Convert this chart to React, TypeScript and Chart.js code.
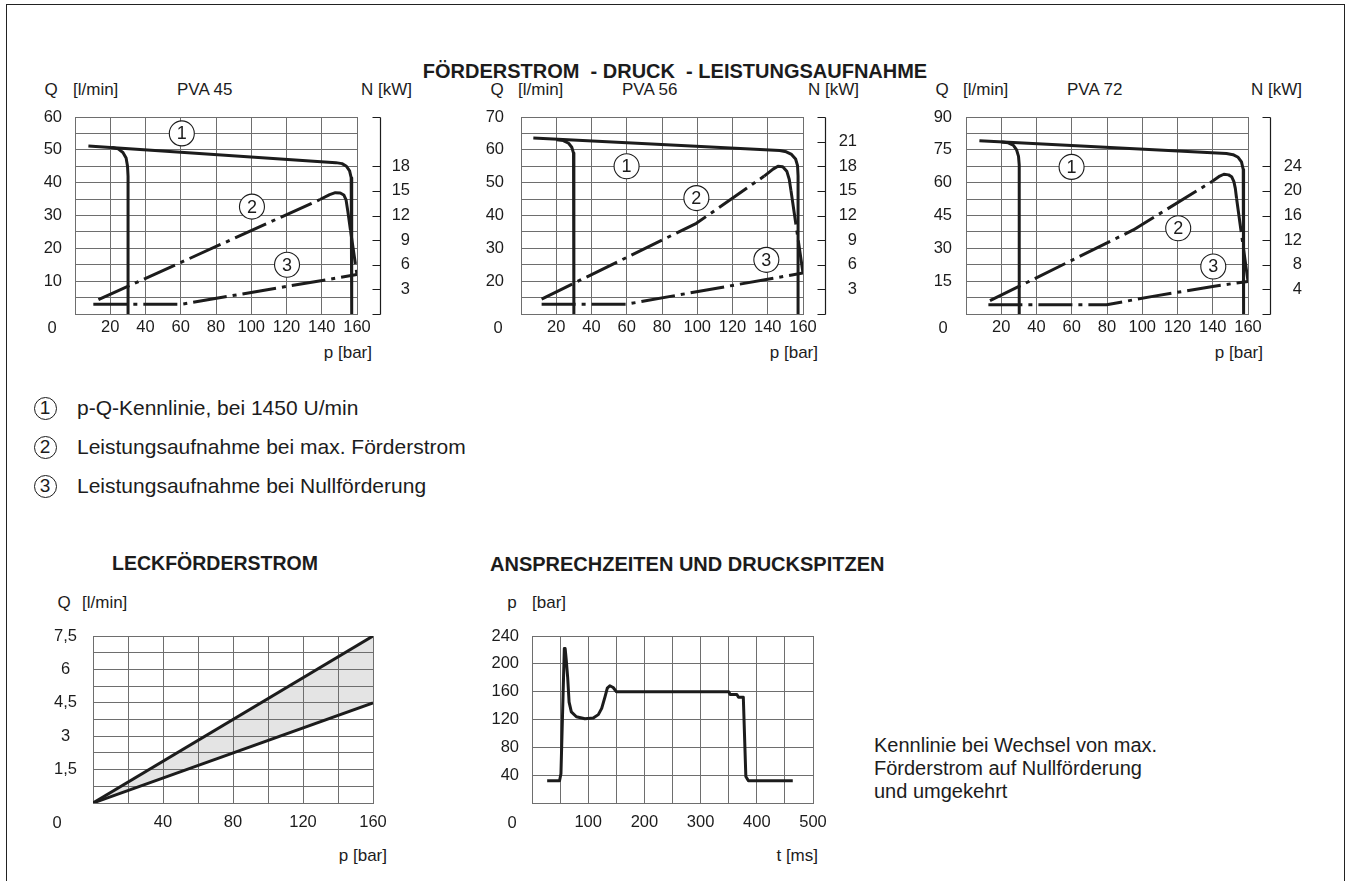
import React, { useEffect, useRef } from 'react';
import { Chart, registerables } from 'chart.js';

Chart.register(...registerables);

const FONT = '"Liberation Sans", Arial, Helvetica, sans-serif';
const INK = '#1c1c1c';
const GRID = '#6e6e6e';
const TICK = 16.5;
const LABEL = 17;
const DASH = [34, 6, 4, 6];

type Pt = [number, number];
type Mark = [number, number, string];

// ---------------- data ----------------
const TITLE_MAIN = 'FÖRDERSTROM  - DRUCK  - LEISTUNGSAUFNAHME';
const TITLE_LEAK = 'LECKFÖRDERSTROM';
const TITLE_RESP = 'ANSPRECHZEITEN UND DRUCKSPITZEN';
const LEGEND_ITEMS = [
  'p-Q-Kennlinie, bei 1450 U/min',
  'Leistungsaufnahme bei max. Förderstrom',
  'Leistungsaufnahme bei Nullförderung',
];
const DESC_LINES = ['Kennlinie bei Wechsel von max.', 'Förderstrom auf Nullförderung', 'und umgekehrt'];

const P_LABELS = [20, 40, 60, 80, 100, 120, 140, 160];

const PVA45_Q_LABELS = [10, 20, 30, 40, 50, 60];
const PVA45_N_LABELS = [3, 6, 9, 12, 15, 18];
const PVA45_C1_MAIN: Pt[] = [[7.6, 51.2], [148, 46.1], [151.5, 45.8], [154, 45.0], [155.8, 43.6], [156.7, 41.5], [157, 38], [157, 0]];
const PVA45_C1_LOW: Pt[] = [[21, 50.7], [24.5, 50.3], [27.2, 49.2], [29, 47.5], [29.8, 45], [30.1, 42], [30.1, 0]];
const PVA45_C2: Pt[] = [[13.3, 1.74], [139, 13.95], [144.5, 14.55], [147.7, 14.78], [150.5, 14.75], [152.5, 14.5], [153.8, 13.9], [154.8, 12.5], [156.3, 10.2], [160, 4.8]];
const PVA45_C3: Pt[] = [[10.4, 1.2], [60.6, 1.2], [160, 4.8]];
const PVA45_MARKS: Mark[] = [[60.6, 55, '1'], [100.4, 32.7, '2'], [120.3, 15, '3']];

const PVA56_Q_LABELS = [20, 30, 40, 50, 60, 70];
const PVA56_N_LABELS = [3, 6, 9, 12, 15, 18, 21];
const PVA56_C1_MAIN: Pt[] = [[7, 63.6], [146.8, 59.8], [150.5, 59.4], [153.5, 58.6], [155.8, 57.2], [156.9, 55.2], [157.2, 52], [157.2, 10]];
const PVA56_C1_LOW: Pt[] = [[20.2, 63.1], [24, 62.8], [27, 62.0], [28.8, 60.8], [29.8, 59], [30, 56.5], [30, 10]];
const PVA56_C2: Pt[] = [[11.7, 1.82], [99.5, 11.05], [138, 16.8], [143, 17.65], [145.8, 18.0], [148.5, 17.95], [150.8, 17.4], [152.2, 16.4], [153.2, 15.0], [160, 5.0]];
const PVA56_C3: Pt[] = [[11.7, 1.2], [60, 1.2], [160, 5.0]];
const PVA56_MARKS: Mark[] = [[59.9, 55, '1'], [99.5, 45.3, '2'], [139.2, 26.5, '3']];

const PVA72_Q_LABELS = [15, 30, 45, 60, 75, 90];
const PVA72_N_LABELS = [4, 8, 12, 16, 20, 24];
const PVA72_C1_MAIN: Pt[] = [[7.6, 79.2], [147.8, 73.3], [151.5, 72.8], [154.4, 71.6], [156.3, 69.5], [157.3, 66], [157.5, 60], [157.5, 0]];
const PVA72_C1_LOW: Pt[] = [[20.2, 78.6], [24, 78.2], [26.8, 77.1], [28.7, 75], [29.8, 72], [30.2, 68], [30.2, 0]];
const PVA72_C2: Pt[] = [[13.6, 2.16], [94.9, 13.65], [140, 21.6], [144, 22.4], [146.3, 22.7], [149, 22.6], [150.7, 22.3], [152, 21.5], [152.8, 20.4], [153.5, 18.8], [160, 5.3]];
const PVA72_C3: Pt[] = [[12.7, 1.51], [79.8, 1.51], [106, 2.86], [140, 4.48], [160, 5.29]];
const PVA72_MARKS: Mark[] = [[59.9, 67.2, '1'], [120.4, 39.2, '2'], [140.3, 21.7, '3']];

const LEAK_P_LABELS = [40, 80, 120, 160];
const LEAK_Q_LABELS = [1.5, 3, 4.5, 6, 7.5];
const LEAK_UPPER: Pt[] = [[0, 0], [160, 7.5]];
const LEAK_LOWER: Pt[] = [[0, 0], [160, 4.5]];

const RESP_T_LABELS = [100, 200, 300, 400, 500];
const RESP_P_LABELS = [40, 80, 120, 160, 200, 240];
const RESP_CURVE: Pt[] = [
  [27, 32], [49, 32], [51.5, 42], [57.5, 222], [59, 222], [61, 205], [63.5, 180], [66, 145], [70, 131],
  [79, 124], [94, 121], [109, 122], [118, 127], [124, 136], [130, 153], [134, 165], [138.5, 168.5],
  [144.5, 166], [150, 160], [350, 160], [352.5, 156], [364.5, 156], [367.5, 152], [376, 152],
  [380.5, 38], [385, 32], [464, 32],
];

// ---------------- helpers ----------------
interface Box { left: number; top: number; width: number; height: number }
interface Plot { left: number; top: number; right: number; bottom: number }

const has = (arr: number[], v: number) => arr.some((a) => Math.abs(a - v) < 1e-6);
const tickFont = { family: FONT, size: TICK };

function makeBracket(ticks: number[]) {
  return {
    id: 'nBracket',
    afterDraw(chart: any) {
      const s = chart.scales.n;
      const ctx = chart.ctx;
      const x = Math.round(s.left) + 0.5;
      ctx.save();
      ctx.strokeStyle = INK;
      ctx.lineWidth = 1.2;
      ctx.beginPath();
      ctx.moveTo(x, Math.round(s.getPixelForValue(s.max)) + 0.5);
      ctx.lineTo(x, Math.round(s.getPixelForValue(s.min)) + 0.5);
      ticks.forEach((v) => {
        const y = Math.round(s.getPixelForValue(v)) + 0.5;
        ctx.moveTo(x - 8, y);
        ctx.lineTo(x, y);
      });
      ctx.stroke();
      ctx.restore();
    },
  };
}

function makeOrigin(dx: number, dy: number) {
  return {
    id: 'origin0',
    afterDraw(chart: any) {
      const xs = chart.scales.x;
      const a = chart.chartArea;
      const ctx = chart.ctx;
      ctx.save();
      ctx.font = `${TICK}px ${FONT}`;
      ctx.fillStyle = INK;
      ctx.textAlign = 'center';
      ctx.textBaseline = 'middle';
      ctx.fillText('0', xs.getPixelForValue(0) + dx, a.bottom + dy);
      ctx.restore();
    },
  };
}

function makeMarks(marks: Mark[]) {
  return {
    id: 'marks',
    afterDatasetsDraw(chart: any) {
      const xs = chart.scales.x;
      const ys = chart.scales.y;
      const ctx = chart.ctx;
      ctx.save();
      marks.forEach(([p, q, t]) => {
        const x = xs.getPixelForValue(p);
        const y = ys.getPixelForValue(q);
        ctx.beginPath();
        ctx.arc(x, y, 12.5, 0, Math.PI * 2);
        ctx.fillStyle = '#fff';
        ctx.fill();
        ctx.lineWidth = 1.1;
        ctx.strokeStyle = INK;
        ctx.stroke();
        ctx.fillStyle = INK;
        ctx.font = `18px ${FONT}`;
        ctx.textAlign = 'center';
        ctx.textBaseline = 'middle';
        ctx.fillText(t, x, y + 1);
      });
      ctx.restore();
    },
  };
}

function lineDs(pts: Pt[], axis: string, extra: any = {}) {
  return {
    data: pts.map(([x, y]) => ({ x, y })),
    yAxisID: axis,
    borderColor: INK,
    borderWidth: 3,
    pointRadius: 0,
    fill: false,
    tension: 0,
    borderJoinStyle: 'round',
    ...extra,
  };
}

interface TopSpec {
  box: Box; plot: Plot;
  qMin: number; qMax: number; qStep: number; qLabels: number[]; yPad: number;
  nMax: number; nStep: number; nLabels: number[]; gap: number; nWidth: number;
  c1a: Pt[]; c1b: Pt[]; c2: Pt[]; c2Solid: [number, number]; c3: Pt[]; marks: Mark[];
}

function topConfig(s: TopSpec) {
  const HB = 30;
  const WL = s.plot.left - s.box.left;
  const padTop = s.plot.top - s.box.top;
  const padRight = s.box.left + s.box.width - s.plot.right - s.gap - s.nWidth;
  const padBottom = s.box.top + s.box.height - s.plot.bottom - HB;
  const [s0, s1] = s.c2Solid;
  return {
    type: 'line',
    data: {
      datasets: [
        lineDs(s.c1a, 'y'),
        lineDs(s.c1b, 'y'),
        lineDs(s.c2, 'n', {
          borderDash: DASH,
          segment: {
            borderDash: (ctx: any) => (ctx.p0.parsed.x >= s0 - 1e-6 && ctx.p1.parsed.x <= s1 + 1e-6 ? [] : undefined),
          },
        }),
        lineDs(s.c3, 'n', { borderDash: DASH }),
      ],
    },
    options: {
      responsive: false,
      animation: false,
      events: [],
      layout: { padding: { left: 0, top: padTop, right: padRight, bottom: padBottom } },
      plugins: { legend: { display: false }, tooltip: { enabled: false } },
      scales: {
        x: {
          type: 'linear', position: 'bottom', min: 0, max: 160,
          afterFit: (sc: any) => { sc.height = HB; },
          ticks: { stepSize: 20, autoSkip: false, maxRotation: 0, padding: 4, font: tickFont, color: INK,
            callback: (v: number) => (has(P_LABELS, v) ? String(v) : '') },
          grid: { color: GRID, lineWidth: 1, drawTicks: false },
          border: { color: GRID, width: 1 },
        },
        y: {
          type: 'linear', position: 'left', min: s.qMin, max: s.qMax,
          afterFit: (sc: any) => { sc.width = WL; },
          ticks: { stepSize: s.qStep, autoSkip: false, padding: s.yPad, font: tickFont, color: INK,
            callback: (v: number) => (has(s.qLabels, v) ? String(v) : '') },
          grid: { color: GRID, lineWidth: 1, drawTicks: false },
          border: { color: GRID, width: 1 },
        },
        gap: {
          type: 'linear', position: 'right', weight: 1, display: true,
          afterFit: (sc: any) => { sc.width = s.gap; },
          ticks: { display: false }, grid: { display: false }, border: { display: false },
        },
        n: {
          type: 'linear', position: 'right', weight: 2, min: 0, max: s.nMax,
          afterFit: (sc: any) => { sc.width = s.nWidth; },
          ticks: { stepSize: s.nStep, autoSkip: false, crossAlign: 'far', padding: 0, font: tickFont, color: INK,
            callback: (v: number) => (has(s.nLabels, v) ? String(v) : '') },
          grid: { display: false, drawOnChartArea: false },
          border: { display: false },
        },
      },
    },
    plugins: [makeBracket([0, ...s.nLabels, s.nMax]), makeOrigin(-23, 14), makeMarks(s.marks)],
  };
}

function leakConfig(box: Box, plot: Plot) {
  const HB = 30;
  return {
    type: 'line',
    data: {
      datasets: [
        lineDs(LEAK_UPPER, 'y', { fill: '+1', backgroundColor: '#e4e4e4' }),
        lineDs(LEAK_LOWER, 'y'),
      ],
    },
    options: {
      responsive: false,
      animation: false,
      events: [],
      layout: { padding: { left: 0, top: plot.top - box.top, right: box.left + box.width - plot.right, bottom: box.top + box.height - plot.bottom - HB } },
      plugins: { legend: { display: false }, tooltip: { enabled: false }, filler: { drawTime: 'beforeDraw' } },
      scales: {
        x: {
          type: 'linear', position: 'bottom', min: 0, max: 160,
          afterFit: (sc: any) => { sc.height = HB; },
          ticks: { stepSize: 20, autoSkip: false, maxRotation: 0, padding: 10, font: tickFont, color: INK,
            callback: (v: number) => (has(LEAK_P_LABELS, v) ? String(v) : '') },
          grid: { color: GRID, drawTicks: false }, border: { color: GRID },
        },
        y: {
          type: 'linear', position: 'left', min: 0, max: 7.5,
          afterFit: (sc: any) => { sc.width = plot.left - box.left; },
          ticks: { stepSize: 0.75, autoSkip: false, padding: 16, crossAlign: 'center', font: tickFont, color: INK,
            callback: (v: number) => (has(LEAK_Q_LABELS, v) ? String(v).replace('.', ',') : '') },
          grid: { color: GRID, drawTicks: false }, border: { color: GRID },
        },
      },
    },
    plugins: [makeOrigin(-36, 20)],
  };
}

function respConfig(box: Box, plot: Plot) {
  const HB = 30;
  return {
    type: 'line',
    data: { datasets: [lineDs(RESP_CURVE, 'y')] },
    options: {
      responsive: false,
      animation: false,
      events: [],
      layout: { padding: { left: 0, top: plot.top - box.top, right: box.left + box.width - plot.right, bottom: box.top + box.height - plot.bottom - HB } },
      plugins: { legend: { display: false }, tooltip: { enabled: false } },
      scales: {
        x: {
          type: 'linear', position: 'bottom', min: 0, max: 500,
          afterFit: (sc: any) => { sc.height = HB; },
          ticks: { stepSize: 50, autoSkip: false, maxRotation: 0, padding: 10, font: tickFont, color: INK,
            callback: (v: number) => (has(RESP_T_LABELS, v) ? String(v) : '') },
          grid: { color: GRID, drawTicks: false }, border: { color: GRID },
        },
        y: {
          type: 'linear', position: 'left', min: 0, max: 240,
          afterFit: (sc: any) => { sc.width = plot.left - box.left; },
          ticks: { stepSize: 40, autoSkip: false, padding: 13, font: tickFont, color: INK,
            callback: (v: number) => (has(RESP_P_LABELS, v) ? String(v) : '') },
          grid: { color: GRID, drawTicks: false }, border: { color: GRID },
        },
      },
    },
    plugins: [makeOrigin(-20, 20)],
  };
}

function ChartCanvas({ box, make }: { box: Box; make: () => any }) {
  const ref = useRef<HTMLCanvasElement>(null);
  useEffect(() => {
    const chart = new Chart(ref.current as HTMLCanvasElement, make());
    return () => chart.destroy();
  }, []);
  return (
    <canvas
      ref={ref}
      width={box.width}
      height={box.height}
      style={{ position: 'absolute', left: box.left, top: box.top, width: box.width, height: box.height }}
    />
  );
}

function Txt({ x, y, size = LABEL, bold = false, align = 'left', children }: any) {
  const tx = align === 'left' ? '0' : align === 'center' ? '-50%' : '-100%';
  return (
    <div
      style={{
        position: 'absolute', left: x, top: y - size * 0.6, fontSize: size, lineHeight: `${size * 1.2}px`,
        fontWeight: bold ? 700 : 400, whiteSpace: 'pre', transform: `translateX(${tx})`, color: INK, fontFamily: FONT,
      }}
    >
      {children}
    </div>
  );
}

function Circled({ x, y, n }: { x: number; y: number; n: string }) {
  return (
    <div
      style={{
        position: 'absolute', left: x - 11.5, top: y - 11.5, width: 23, height: 23, boxSizing: 'border-box',
        border: `1.2px solid ${INK}`, borderRadius: '50%', display: 'flex', alignItems: 'center', justifyContent: 'center',
        fontSize: 19, fontFamily: FONT, color: INK, lineHeight: '22px',
      }}
    >
      {n}
    </div>
  );
}

const BOX45: Box = { left: 20, top: 85, width: 400, height: 270 };
const BOX56: Box = { left: 466, top: 85, width: 400, height: 270 };
const BOX72: Box = { left: 911, top: 85, width: 400, height: 270 };
const BOX_LEAK: Box = { left: 40, top: 596, width: 380, height: 254 };
const BOX_RESP: Box = { left: 480, top: 596, width: 380, height: 254 };

export default function App() {
  const top45 = () => topConfig({
    box: BOX45, plot: { left: 75, top: 117, right: 357, bottom: 314 },
    qMin: 0, qMax: 60, qStep: 5, qLabels: PVA45_Q_LABELS, yPad: 13,
    nMax: 24, nStep: 3, nLabels: PVA45_N_LABELS, gap: 23, nWidth: 30,
    c1a: PVA45_C1_MAIN, c1b: PVA45_C1_LOW, c2: PVA45_C2, c2Solid: [139, 156.3], c3: PVA45_C3, marks: PVA45_MARKS,
  });
  const top56 = () => topConfig({
    box: BOX56, plot: { left: 521, top: 117, right: 803, bottom: 314 },
    qMin: 10, qMax: 70, qStep: 5, qLabels: PVA56_Q_LABELS, yPad: 17,
    nMax: 24, nStep: 3, nLabels: PVA56_N_LABELS, gap: 22, nWidth: 32,
    c1a: PVA56_C1_MAIN, c1b: PVA56_C1_LOW, c2: PVA56_C2, c2Solid: [138, 153.2], c3: PVA56_C3, marks: PVA56_MARKS,
  });
  const top72 = () => topConfig({
    box: BOX72, plot: { left: 966, top: 117, right: 1248, bottom: 314 },
    qMin: 0, qMax: 90, qStep: 7.5, qLabels: PVA72_Q_LABELS, yPad: 14,
    nMax: 32, nStep: 4, nLabels: PVA72_N_LABELS, gap: 22, nWidth: 32,
    c1a: PVA72_C1_MAIN, c1b: PVA72_C1_LOW, c2: PVA72_C2, c2Solid: [140, 153.5], c3: PVA72_C3, marks: PVA72_MARKS,
  });

  return (
    <div style={{ position: 'fixed', left: 0, top: 0, width: 1348, height: 881, overflow: 'hidden', background: '#fff' }}>
      <div style={{ position: 'absolute', left: 6, top: 4, width: 1339, height: 900, border: '1.5px solid #222', boxSizing: 'border-box' }} />

      <Txt x={675} y={71} size={20} bold align="center">{TITLE_MAIN}</Txt>

      <Txt x={51} y={90} align="center">Q</Txt>
      <Txt x={73} y={90}>[l/min]</Txt>
      <Txt x={177} y={90}>PVA 45</Txt>
      <Txt x={412} y={90} align="right">N [kW]</Txt>
      <Txt x={372} y={353} align="right">p [bar]</Txt>

      <Txt x={497} y={90} align="center">Q</Txt>
      <Txt x={518} y={90}>[l/min]</Txt>
      <Txt x={622} y={90}>PVA 56</Txt>
      <Txt x={859} y={90} align="right">N [kW]</Txt>
      <Txt x={818} y={353} align="right">p [bar]</Txt>

      <Txt x={942} y={90} align="center">Q</Txt>
      <Txt x={963} y={90}>[l/min]</Txt>
      <Txt x={1067} y={90}>PVA 72</Txt>
      <Txt x={1302} y={90} align="right">N [kW]</Txt>
      <Txt x={1263} y={353} align="right">p [bar]</Txt>

      <ChartCanvas box={BOX45} make={top45} />
      <ChartCanvas box={BOX56} make={top56} />
      <ChartCanvas box={BOX72} make={top72} />

      {LEGEND_ITEMS.map((t, i) => (
        <React.Fragment key={t}>
          <Circled x={45} y={408 + i * 39} n={String(i + 1)} />
          <Txt x={77} y={408 + i * 39} size={21}>{t}</Txt>
        </React.Fragment>
      ))}

      <Txt x={215} y={564} size={19.5} bold align="center">{TITLE_LEAK}</Txt>
      <Txt x={64} y={603} align="center">Q</Txt>
      <Txt x={82} y={603}>[l/min]</Txt>
      <Txt x={387} y={856} align="right">p [bar]</Txt>
      <ChartCanvas box={BOX_LEAK} make={() => leakConfig(BOX_LEAK, { left: 93, top: 636, right: 373, bottom: 803 })} />

      <Txt x={490} y={564} size={20} bold>{TITLE_RESP}</Txt>
      <Txt x={512} y={603} align="center">p</Txt>
      <Txt x={532} y={603}>[bar]</Txt>
      <Txt x={818} y={856} align="right">t [ms]</Txt>
      <ChartCanvas box={BOX_RESP} make={() => respConfig(BOX_RESP, { left: 532, top: 636, right: 813, bottom: 803 })} />

      {DESC_LINES.map((t, i) => (
        <Txt key={t} x={874} y={745 + i * 23} size={20}>{t}</Txt>
      ))}
    </div>
  );
}
